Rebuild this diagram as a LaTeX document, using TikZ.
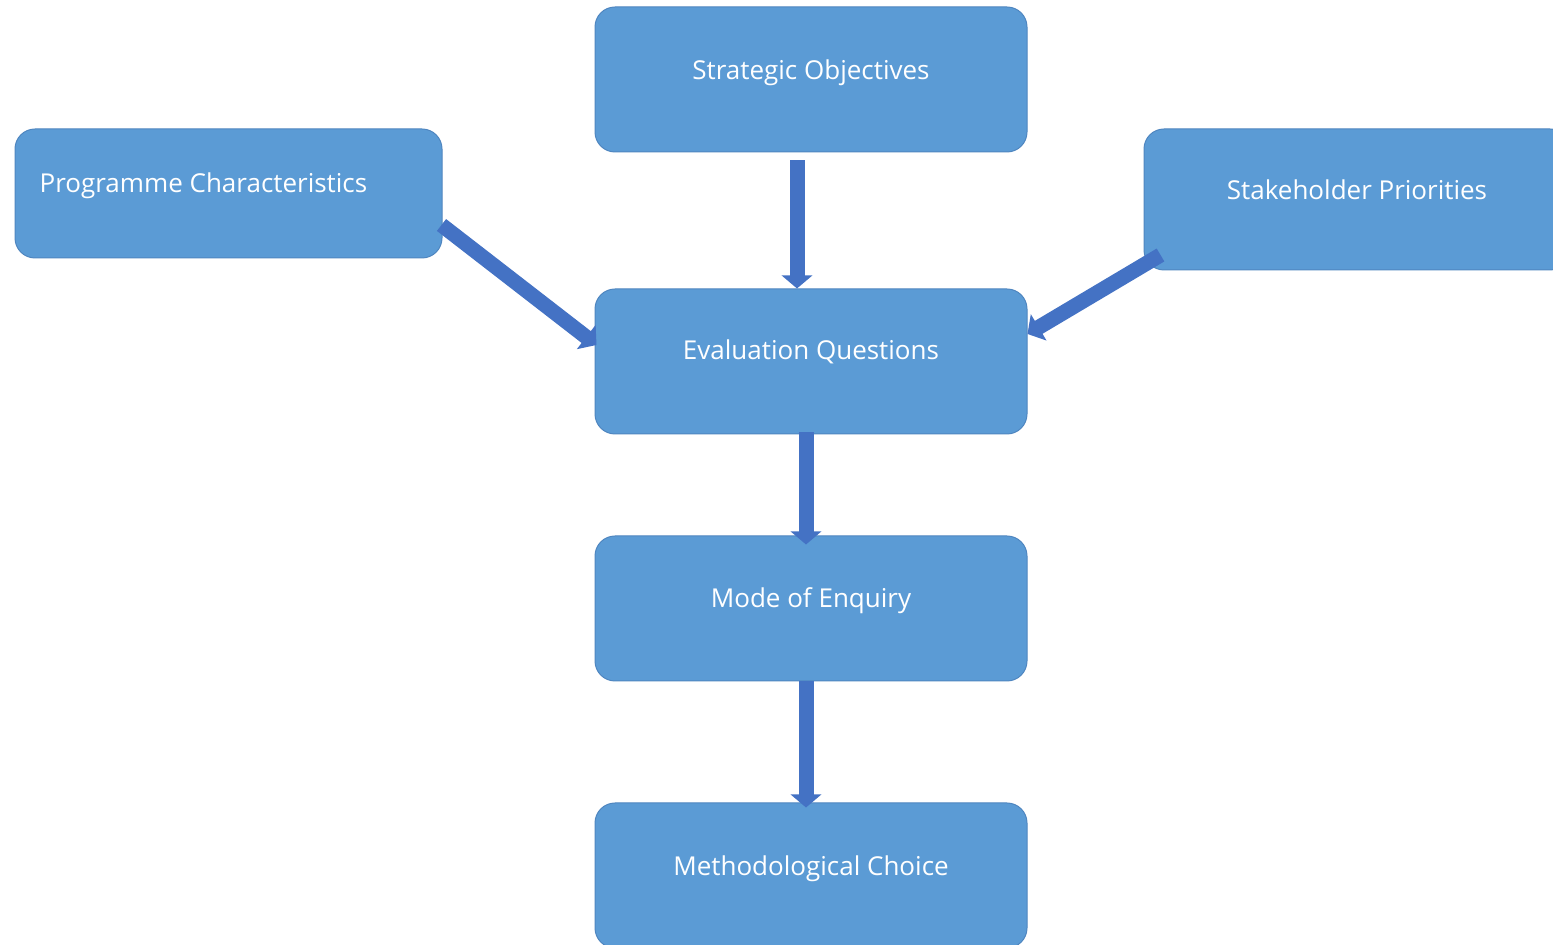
\documentclass[tikz,border=0pt]{standalone}
\usepackage{fontspec}
\setmainfont{Open Sans}
\usetikzlibrary{arrows.meta}
\definecolor{boxfill}{HTML}{5B9BD5}
\definecolor{boxline}{HTML}{4F86C0}
\definecolor{arrowfill}{HTML}{4472C4}
\begin{document}
\begin{tikzpicture}[x=1pt,y=1pt,
  box/.style={draw=boxline, line width=1pt, fill=boxfill, rounded corners=20pt,
    inner sep=0pt, minimum width=432pt, minimum height=145pt},
  lbl/.style={text=white, font=\fontsize{26}{31}\selectfont},
  blockarrow/.style={draw=arrowfill, line width=15pt,
    -{Triangle[width=30pt,length=13pt]}}]
\clip (0,0) rectangle (1553,945);
\fill[white] (0,0) rectangle (1553,945);
\node[box, label={[lbl,yshift=7pt]center:Strategic Objectives}] (so) at (811,865.5) {};
\node[box, minimum width=427pt, minimum height=129pt,
  label={[lbl,xshift=-25pt,yshift=8pt]center:Programme Characteristics}] (pc) at (228.5,751.5) {};
\node[box, minimum width=426pt, minimum height=141pt,
  label={[lbl,yshift=10pt]center:Stakeholder Priorities}] (sp) at (1357,745.5) {};
\node[box, label={[lbl,yshift=10pt]center:Evaluation Questions}] (eq) at (811,583.5) {};
\node[box, label={[lbl,yshift=8pt]center:Mode of Enquiry}] (moe) at (811,336.5) {};
\node[box, label={[lbl,yshift=7pt]center:Methodological Choice}] (mc) at (811,69.5) {};
\coordinate (a1s) at ([xshift=-14pt,yshift=-8pt]so.south);
\coordinate (a1e) at ([xshift=-14pt]eq.north);
\coordinate (a2s) at ([xshift=-5pt,yshift=2pt]eq.south);
\coordinate (a2e) at ([xshift=-5pt,yshift=-9pt]moe.north);
\coordinate (a3s) at ([xshift=-5pt]moe.south);
\coordinate (a3e) at ([xshift=-5pt,yshift=-5pt]mc.north);
\coordinate (a4s) at ([xshift=-1pt,yshift=-31.5pt]pc.east);
\coordinate (a4e) at ([xshift=2pt,yshift=16.5pt]eq.west);
\coordinate (a5s) at ([xshift=17pt,yshift=-55.5pt]sp.west);
\coordinate (a5e) at ([yshift=27.5pt]eq.east);
\draw[blockarrow] (a1s) -- (a1e);
\draw[blockarrow] (a2s) -- (a2e);
\draw[blockarrow] (a3s) -- (a3e);
\draw[blockarrow] (a4s) -- (a4e);
\draw[blockarrow] (a5s) -- (a5e);
\end{tikzpicture}
\end{document}
